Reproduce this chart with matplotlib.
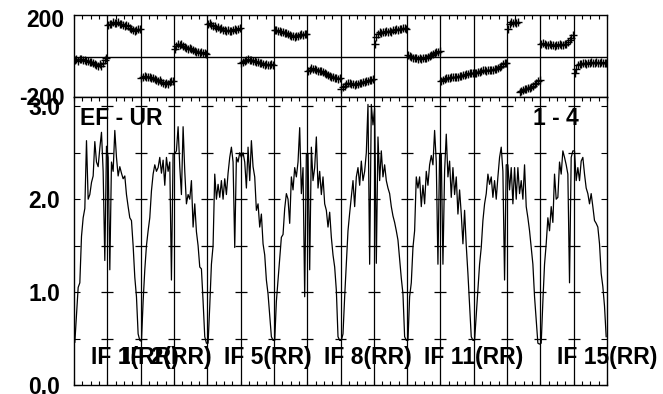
import matplotlib
matplotlib.use('Agg')
import numpy as np
import matplotlib.pyplot as plt

plt.rcParams['font.family']= ['Liberation Sans', 'DejaVu Sans']
plt.rcParams['font.weight']= 'bold'

# Phase per IF (degrees), 20 channels each.
phase_if= [
    [-15, -12, -20, -8, -10, -18, -14, -22, -20, -28, -25, -32, -35, -40, -45, -38, -48, -30, -15, -5],
    [165, 170, 168, 177, 175, 172, 178, 170, 168, 165, 160, 162, 158, 150, 145, 140, 135, 138, 145, 142],
    [-107, -100, -95, -102, -100, -105, -110, -108, -115, -118, -123, -120, -128, -132, -140, -135, -138, -130, -125, -123],
    [43, 55, 68, 60, 65, 55, 50, 45, 43, 48, 40, 35, 30, 27, 25, 22, 28, 20, 18, 15],
    [168, 172, 165, 160, 158, 150, 152, 145, 148, 140, 138, 135, 140, 132, 135, 138, 145, 140, 143, 148],
    [-32, -25, -20, -15, -12, -15, -18, -20, -22, -25, -28, -30, -32, -35, -40, -38, -42, -40, -35, -40],
    [140, 138, 135, 132, 130, 127, 125, 122, 118, 115, 110, 108, 102, 105, 110, 112, 118, 115, 120, 118],
    [-73, -65, -57, -60, -62, -65, -70, -72, -73, -75, -80, -85, -90, -95, -100, -105, -107, -110, -115, -107],
    [-165, -155, -150, -140, -133, -135, -138, -140, -142, -140, -138, -135, -132, -130, -128, -125, -122, -120, -117, -115],
    [68, 100, 120, 127, 125, 130, 127, 132, 128, 135, 130, 138, 140, 143, 140, 145, 143, 148, 150, 145],
    [10, 5, 0, -5, -7, -5, -8, -7, -10, -5, -7, -3, 0, 5, 10, 15, 20, 27, 25, 30],
    [-123, -120, -115, -110, -107, -108, -105, -103, -100, -102, -100, -98, -95, -92, -90, -88, -85, -83, -80, -83],
    [-83, -80, -78, -75, -70, -67, -68, -70, -65, -67, -68, -65, -62, -60, -55, -50, -45, -38, -32, -30],
    [145, 170, 178, 176, 180, 175, 178, -178, -172, -168, -165, -162, -160, -158, -152, -148, -140, -135, -125, -117],
    [68, 72, 65, 62, 60, 65, 62, 60, 58, 62, 60, 65, 62, 60, 64, 68, 75, 85, 98, 112],
    [-83, -60, -40, -35, -38, -32, -30, -35, -32, -30, -28, -32, -30, -28, -32, -30, -28, -32, -30, -32],
]

# Amplitude per IF, 20 channels each.
amp_if= [
    [0.46, 0.75, 1.05, 1.10, 1.60, 1.80, 1.90, 2.63, 2.00, 2.05, 2.18, 2.25, 2.62, 2.40, 2.35, 2.55, 2.72, 2.30, 1.34, 2.57],
    [2.45, 1.24, 2.40, 2.30, 2.74, 2.45, 2.25, 2.35, 2.28, 2.22, 2.25, 2.05, 1.92, 1.80, 1.77, 1.50, 1.16, 0.95, 0.55, 0.48],
    [0.47, 0.90, 1.24, 1.50, 1.66, 1.80, 2.09, 2.27, 2.37, 2.30, 2.34, 2.45, 2.28, 2.42, 2.15, 2.45, 2.30, 2.40, 1.13, 2.49],
    [2.49, 2.52, 2.78, 2.35, 2.05, 2.78, 2.30, 1.95, 2.05, 2.00, 2.20, 1.70, 1.95, 1.65, 1.50, 1.27, 1.25, 0.90, 0.52, 0.45],
    [0.45, 0.85, 1.30, 1.50, 2.27, 2.00, 2.16, 2.02, 2.20, 2.00, 2.22, 2.05, 2.28, 2.45, 2.56, 2.40, 1.48, 2.45, 2.40, 2.50],
    [2.45, 2.50, 2.40, 2.12, 2.56, 2.20, 2.63, 2.35, 2.24, 1.88, 1.95, 1.70, 1.84, 1.52, 1.40, 1.13, 0.98, 0.75, 0.52, 0.48],
    [0.48, 0.90, 1.13, 1.35, 1.59, 1.62, 1.90, 2.06, 2.00, 1.74, 2.24, 2.10, 2.34, 2.24, 2.40, 2.77, 2.06, 2.34, 0.95, 2.49],
    [2.49, 1.24, 2.56, 2.20, 2.34, 2.67, 2.12, 2.30, 2.05, 2.24, 1.95, 1.88, 1.70, 1.86, 1.59, 1.40, 1.27, 1.02, 0.52, 0.48],
    [0.48, 0.55, 0.95, 1.30, 1.66, 1.85, 2.02, 2.20, 1.92, 2.24, 2.34, 2.15, 2.41, 2.20, 2.30, 2.50, 3.02, 1.30, 3.02, 2.80],
    [2.98, 1.31, 2.67, 2.20, 2.52, 2.24, 2.37, 2.20, 2.12, 2.06, 1.92, 1.82, 1.75, 1.66, 1.56, 1.35, 1.15, 0.98, 0.52, 0.48],
    [0.48, 0.95, 1.10, 1.48, 1.66, 2.24, 2.12, 2.24, 1.92, 2.15, 1.95, 2.30, 2.15, 2.37, 2.47, 2.37, 2.74, 2.40, 1.30, 2.49],
    [2.49, 1.30, 2.30, 2.70, 2.24, 2.41, 2.02, 2.34, 2.05, 2.24, 1.84, 2.10, 1.84, 1.52, 1.88, 1.50, 1.20, 0.85, 0.52, 0.48],
    [0.48, 0.75, 1.02, 1.30, 1.48, 1.77, 1.95, 2.06, 2.27, 2.16, 2.24, 2.02, 2.20, 2.00, 2.24, 2.45, 2.56, 2.30, 1.13, 2.37],
    [2.37, 2.10, 2.34, 1.95, 2.34, 2.00, 2.34, 2.06, 2.20, 2.00, 2.37, 1.92, 1.80, 1.66, 1.48, 1.30, 0.95, 0.70, 0.45, 0.44],
    [0.45, 0.90, 1.30, 1.52, 1.80, 1.66, 1.92, 1.75, 2.27, 2.00, 2.02, 2.40, 2.27, 2.52, 2.45, 2.37, 2.27, 1.10, 2.45, 2.52],
    [2.52, 2.20, 2.34, 2.20, 2.41, 2.45, 2.27, 2.12, 2.06, 1.95, 2.06, 1.92, 1.77, 1.74, 1.70, 1.52, 1.20, 1.06, 0.85, 0.52],
]

if_labels= ['IF 1(RR)', 'IF 2(RR)', 'IF 5(RR)', 'IF 8(RR)', 'IF 11(RR)', 'IF 15(RR)']
if_label_pos= [1, 2, 5, 8, 11, 15] # IF number where each label starts
baseline_name= 'EF - UR'
time_range= '1 - 4'

nIF= len(amp_if)
nChan= len(amp_if[0])
# Channel abscissa: IF k spans [k, k+1]
x= np.concatenate([k+(np.arange(nChan)+0.5)/nChan for k in range(nIF)])
amp= np.concatenate(amp_if)
phase= np.concatenate(phase_if)

fs= 16.5
fig= plt.figure(figsize=(6.63, 3.94), dpi=100)
left= 74/663.0
width= 533/663.0
axPh= fig.add_axes([left, 1-97/394.0, width, 82/394.0])
axAmp= fig.add_axes([left, 1-385/394.0, width, 288/394.0])

# Phase panel
axPh.plot(x, phase, '+', color='black', markersize=6, markeredgewidth=1.0)
axPh.set_xlim(0, nIF)
axPh.set_ylim(-205, 215)
axPh.axhline(0, color='black', lw=1.0)
for b in range(1, nIF):
    axPh.axvline(b, color='black', lw=0.9)
axPh.set_yticks([-200, 200])
axPh.set_yticklabels(['-200', '200'], fontsize=fs, fontweight='bold')
axPh.tick_params(axis='y', length=0, pad=7)
axPh.set_xticks(np.arange(0, nIF+0.01, 0.25))
axPh.tick_params(axis='x', direction='in', length=3, top=True, bottom=False, labelbottom=False)

# Amplitude panel
axAmp.plot(x, amp, '-', color='black', lw=0.9)
axAmp.set_xlim(0, nIF)
axAmp.set_ylim(0, 3.1)
levels= np.arange(0.5, 3.01, 0.5)
for b in range(1, nIF):
    axAmp.axvline(b, color='black', lw=0.9)
    axAmp.hlines(levels, b-0.18, b+0.18, color='black', lw=0.9)
axAmp.set_yticks(np.arange(0, 3.01, 0.5))
axAmp.set_yticklabels(['0.0', '', '1.0', '', '2.0', '', '3.0'], fontsize=fs, fontweight='bold')
axAmp.tick_params(axis='y', direction='in', length=4.5, left=True, right=True, pad=10)
axAmp.set_xticks(np.arange(0, nIF+0.01, 0.25))
axAmp.tick_params(axis='x', direction='in', length=3, top=True, bottom=True, labelbottom=False)

for ax in (axPh, axAmp):
    for s in ax.spines.values():
        s.set_linewidth(1.0)

# Labels
axAmp.text(0.011, 0.903, baseline_name, transform=axAmp.transAxes, fontsize=fs, fontweight='bold', va='baseline', ha='left')
axAmp.text(0.861, 0.903, time_range, transform=axAmp.transAxes, fontsize=fs, fontweight='bold', va='baseline', ha='left')
for lab, k in zip(if_labels, if_label_pos):
    axAmp.text(k-0.5, 0.226, lab, fontsize=fs, fontweight='bold', va='baseline', ha='left')

fig.savefig('out.png', dpi=100)
